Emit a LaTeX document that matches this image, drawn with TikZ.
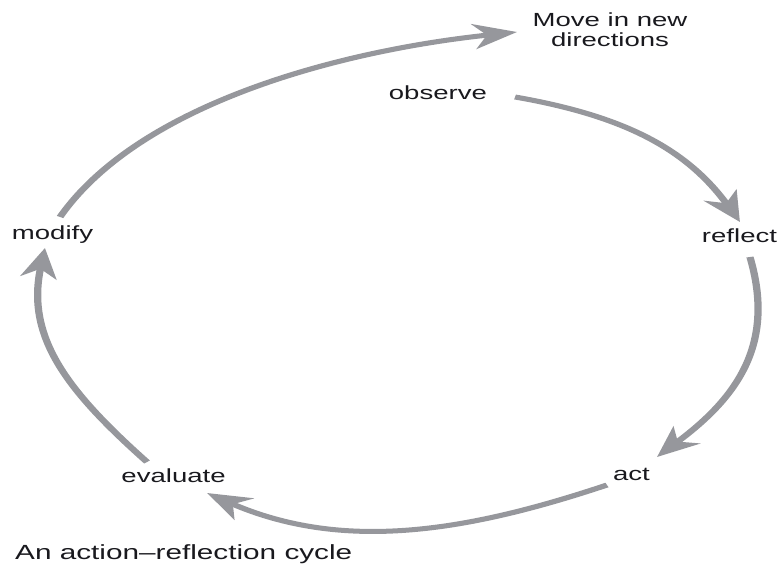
\documentclass[tikz,border=0pt]{standalone}
\usepackage{fontspec}
\setmainfont{Liberation Sans}
\usetikzlibrary{arrows.meta,calc}
\definecolor{arcgray}{RGB}{150,151,156}
\definecolor{txt}{RGB}{25,25,30}
\begin{document}
\begin{tikzpicture}[x=1pt,y=-1pt,
  lbl/.style={inner sep=0pt, font=\fontsize{19}{20}\selectfont, text=txt, anchor=base},
  cyc/.style={draw=arcgray, line width=5pt, -{Stealth[length=30pt,width=25pt,inset=9pt]}}]
\useasboundingbox (0,0) rectangle (779,572);
\begin{scope}[transform canvas={xscale=1.45}]
\node[lbl] (observe) at (302,100) {observe};
\node[lbl] (reflect) at (510,243) {reflect};
\node[lbl] (act) at (435.5,480) {act};
\node[lbl] (evaluate) at (119.7,482) {evaluate};
\node[lbl] (modify) at (36.2,240) {modify};
\node[lbl, anchor=south, align=center] (move) at (420.7,46.7) {Move in new\\directions};
\node[lbl, anchor=base west, font=\fontsize{20.5}{22}\selectfont] (caption) at (10.3,559) {An action--reflection cycle};
\draw[cyc] ($(modify.base)+(5.2,-23)$) .. controls (95.9,104.5) and (233.1,50.75) .. ($(move.south)+(-64.1,-14.7)$);
\draw[cyc] ($(observe.base)+(53.2,-3)$) .. controls (432.8,116.5) and (474.3,150.8) .. ($(reflect.base)+(0.3,-21)$);
\draw[cyc] ($(reflect.base)+(7.2,14)$) .. controls (535.2,345.2) and (507.5,398.6) .. ($(act.base)+(17.6,-23)$);
\draw[cyc] ($(act.base)+(-16.9,5)$) .. controls (319.6,532.9) and (236,551.5) .. ($(evaluate.base)+(23.1,11)$);
\draw[cyc] ($(evaluate.base)+(-18.3,-20)$) .. controls (46.4,391) and (17.5,337) .. ($(modify.base)+(-5.2,8)$);
\end{scope}
\end{tikzpicture}
\end{document}
